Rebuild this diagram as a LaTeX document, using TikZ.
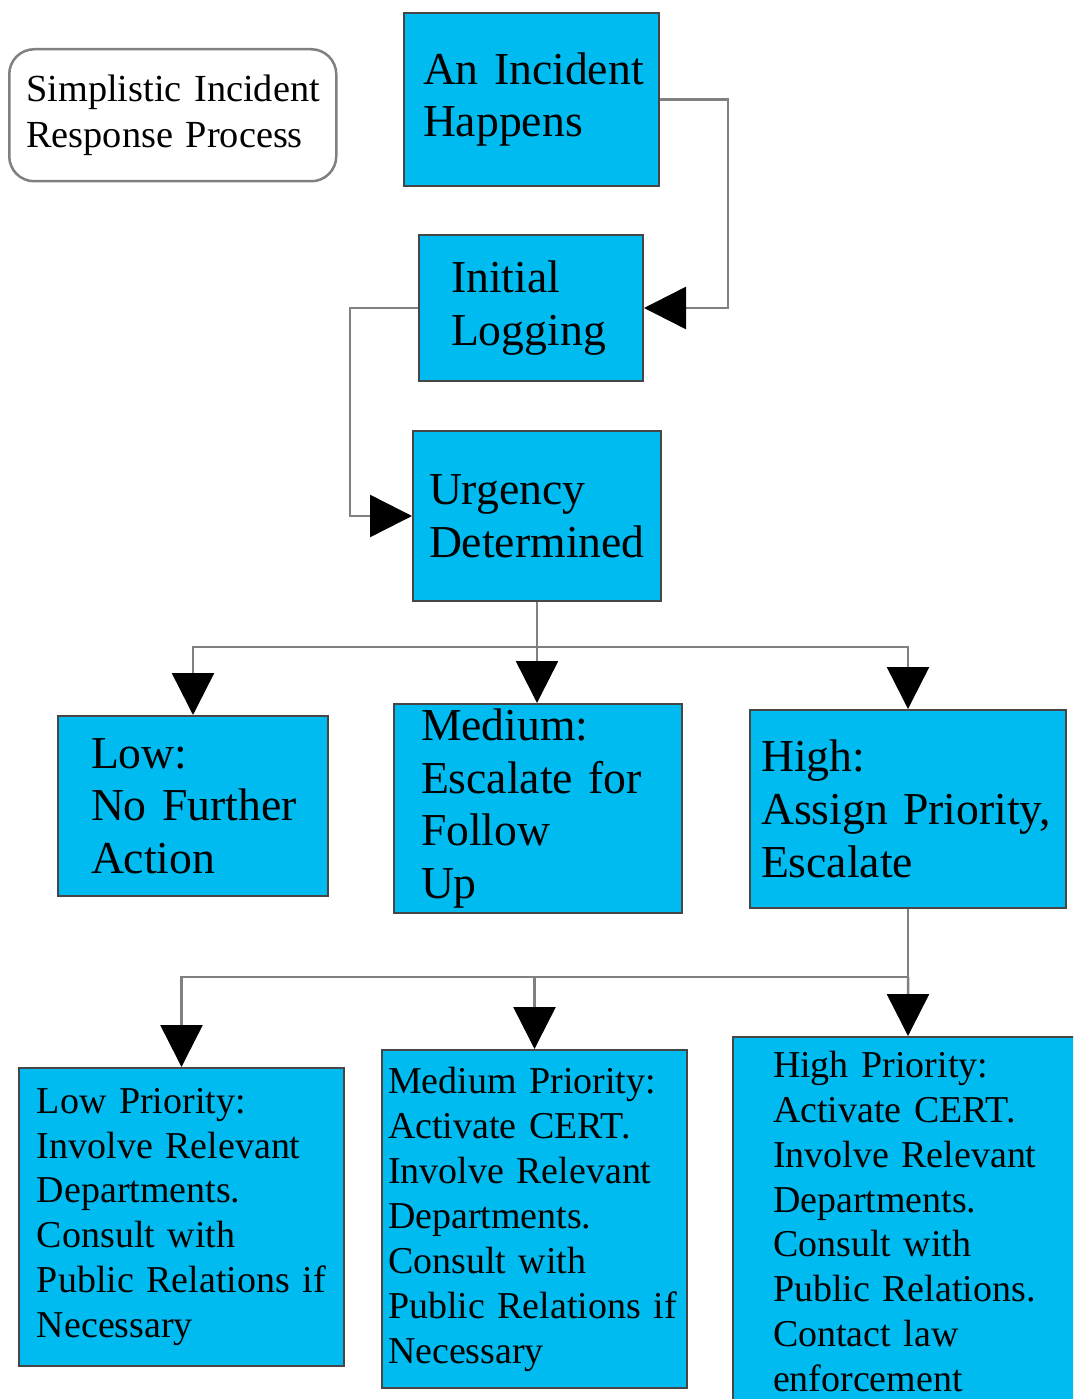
\documentclass[tikz,border=0pt]{standalone}
\usepackage{fontspec}
\setmainfont{Liberation Serif}
\usetikzlibrary{arrows.meta}
\hyphenpenalty=10000
\exhyphenpenalty=10000
\definecolor{boxblue}{RGB}{0,187,240}
\definecolor{boxline}{RGB}{70,70,70}
\definecolor{wire}{RGB}{128,128,128}
\tikzset{
  blk/.style={draw=boxline, line width=0.2mm, fill=boxblue, anchor=north west, align=left, inner ysep=0pt, font=\fontsize{13}{15}\selectfont},
  blksm/.style={blk, font=\fontsize{10.8}{12.8}\selectfont},
  conn/.style={draw=wire, line width=0.25mm},
  arr/.style={conn, -{Triangle[length=4.2mm,width=4.2mm,color=black]}}
}
\begin{document}
\begin{tikzpicture}[x=0.1mm,y=-0.1mm]
\useasboundingbox (0,0) rectangle (1073,1399);
\clip (0,0) rectangle (1073,1399);
% title
\node[draw=wire, line width=0.25mm, rounded corners=2.5mm, anchor=north west, minimum width=32.7mm, minimum height=13.2mm, inner xsep=1.7mm, text width=29.3mm, align=left, font=\fontsize{10.9}{13.1}\selectfont] (title) at (8,48) {Simplistic~Incident\\Response~Process};
% first steps
\node[blk, minimum width=25.5mm, minimum height=17.3mm, inner xsep=1.9mm, text width=21.7mm] (incident) at (403,12) {An~Incident\\Happens};
\node[blk, minimum width=22.4mm, minimum height=14.6mm, inner xsep=3.2mm, text width=16mm] (logging) at (418,234) {Initial\\Logging};
\node[blk, minimum width=24.8mm, minimum height=17mm, inner xsep=1.6mm, text width=21.6mm] (urgency) at (412,430) {Urgency\\Determined};
% urgency levels
\node[blk, minimum width=27mm, minimum height=18mm, inner xsep=3.3mm, text width=20.4mm] (low) at (57,715) {Low:\\No~Further\\Action};
\node[blk, minimum width=28.8mm, minimum height=20.9mm, inner xsep=2.7mm, text width=23.4mm] (medium) at (393,703) {Medium:\\Escalate~for\\Follow\\Up};
\node[blk, minimum width=31.6mm, minimum height=19.8mm, inner xsep=1.1mm, text width=29.4mm] (high) at (749,709) {High:\\Assign~Priority,\\Escalate};
% priorities
\node[blksm, minimum width=32.5mm, minimum height=29.8mm, inner xsep=1.8mm, text width=28.9mm] (lowprio) at (18,1067) {Low~Priority:\\Involve~Relevant\\Departments.\\Consult~with\\Public~Relations~if\\Necessary};
\node[blksm, minimum width=30.5mm, minimum height=33.8mm, inner xsep=0.6mm, text width=29.3mm] (medprio) at (381,1049) {Medium~Priority:\\Activate~CERT.\\Involve~Relevant\\Departments.\\Consult~with\\Public~Relations~if\\Necessary};
\node[blksm, minimum width=35mm, minimum height=36.9mm, inner xsep=4mm, text width=27mm] (highprio) at (732,1036) {High~Priority:\\Activate~CERT.\\Involve~Relevant\\Departments.\\Consult~with\\Public~Relations.\\Contact~law\\enforcement};
% connectors
\draw[arr] (incident.east) -- ++(68,0) |- (logging.east);
\draw[arr] (logging.west) -- ++(-68,0) |- (urgency.west);
\draw[conn] (urgency.south) -- ++(0,45) coordinate (bus1);
\draw[arr] (bus1) -| (low.north);
\draw[arr] (bus1) -| (high.north);
\draw[arr] (urgency.south) -- (urgency.south |- medium.north);
\draw[conn] (high.south) -- ++(0,68) coordinate (bus2);
\draw[arr] (bus2) -| (lowprio.north);
\draw[arr] (bus2) -| (medprio.north);
\draw[arr] (bus2) -- (highprio.north);
\end{tikzpicture}
\end{document}
